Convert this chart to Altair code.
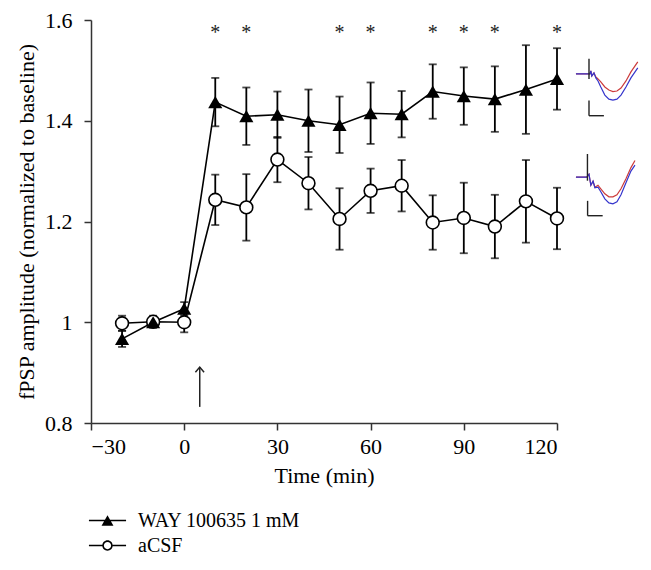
import altair as alt
import pandas as pd

# ---- data ----
times = [-20, -10, 0, 10, 20, 30, 40, 50, 60, 70, 80, 90, 100, 110, 120]
way_mean = [0.967, 1.000, 1.027, 1.437, 1.409, 1.412, 1.400, 1.392, 1.415, 1.413, 1.458, 1.449, 1.443, 1.462, 1.483]
way_err = [0.016, 0.010, 0.013, 0.048, 0.057, 0.046, 0.062, 0.056, 0.061, 0.046, 0.054, 0.057, 0.065, 0.088, 0.061]
acsf_mean = [0.998, 1.001, 1.000, 1.243, 1.228, 1.323, 1.276, 1.205, 1.261, 1.271, 1.198, 1.207, 1.190, 1.240, 1.206]
acsf_err = [0.015, 0.012, 0.020, 0.050, 0.066, 0.045, 0.052, 0.061, 0.044, 0.051, 0.054, 0.070, 0.063, 0.082, 0.061]
series_names = ["WAY 100635 1 mM", "aCSF"]

star_times = [10, 20, 50, 60, 80, 90, 100, 120]
star_value = 1.562

arrow_time = 5
arrow_top = 0.911
arrow_bottom = 0.832

# example fPSP traces (inset, in axis units)
tr_top_t = [126.1, 130.6, 130.9, 131.2, 131.9, 132.5, 133.2, 134.1, 135.4, 136.7, 138.0, 139.3, 140.6, 142.2, 143.8, 146.0]
tr_top_red = [1.493, 1.493, 1.499, 1.489, 1.495, 1.487, 1.483, 1.477, 1.467, 1.461, 1.458, 1.459, 1.465, 1.479, 1.497, 1.517]
tr_top_blue = [1.493, 1.493, 1.499, 1.489, 1.495, 1.485, 1.479, 1.467, 1.451, 1.443, 1.441, 1.443, 1.451, 1.467, 1.485, 1.505]
tr_bot_t = [126.1, 129.6, 130.3, 130.9, 131.6, 132.2, 133.2, 134.1, 135.4, 136.7, 138.0, 139.3, 140.6, 142.2, 143.8, 145.1]
tr_bot_red = [1.288, 1.288, 1.294, 1.272, 1.280, 1.268, 1.272, 1.265, 1.255, 1.249, 1.249, 1.253, 1.265, 1.285, 1.307, 1.321]
tr_bot_blue = [1.288, 1.288, 1.294, 1.272, 1.280, 1.267, 1.268, 1.259, 1.245, 1.237, 1.235, 1.239, 1.253, 1.277, 1.300, 1.312]
# segments: stimulus artefacts and scale bars  (t1, t2, v1, v2)
seg_t1 = [130.3, 130.3, 130.3, 129.8, 129.85, 129.85]
seg_t2 = [130.3, 130.3, 135.1, 129.8, 129.85, 134.7]
seg_v1 = [1.523, 1.440, 1.410, 1.334, 1.241, 1.2115]
seg_v2 = [1.483, 1.410, 1.410, 1.281, 1.2115, 1.2115]

# ---- tables ----
rows = []
for name, means, errs in [(series_names[0], way_mean, way_err), (series_names[1], acsf_mean, acsf_err)]:
    for t, m, e in zip(times, means, errs):
        rows.append({"series": name, "time": t, "mean": m, "lo": m - e, "hi": m + e})
df = pd.DataFrame(rows)

stars = pd.DataFrame({"time": star_times, "v": [star_value] * len(star_times), "s": ["*"] * len(star_times)})
arrow = pd.DataFrame({"time": [arrow_time], "top": [arrow_top], "bottom": [arrow_bottom]})

tr_rows = []
for g, ts, vs, col in [("tr", tr_top_t, tr_top_red, "#cc3b3b"), ("tb", tr_top_t, tr_top_blue, "#3535cc"),
                       ("br", tr_bot_t, tr_bot_red, "#cc3b3b"), ("bb", tr_bot_t, tr_bot_blue, "#3535cc")]:
    for i, (t, v) in enumerate(zip(ts, vs)):
        tr_rows.append({"g": g, "i": i, "t": t, "v": v, "col": col})
traces = pd.DataFrame(tr_rows)
segs = pd.DataFrame({"t1": seg_t1, "t2": seg_t2, "v1": seg_v1, "v2": seg_v2})

FONT = "Liberation Serif"
xscale = alt.Scale(domain=[-30, 120], nice=False, zero=False)
yscale = alt.Scale(domain=[0.8, 1.6], nice=False, zero=False)

xax = alt.Axis(values=[-30, 0, 30, 60, 90, 120], title="Time (min)", format="d",
               labelPadding=6, titlePadding=8)
yax = alt.Axis(values=[0.8, 1.0, 1.2, 1.4, 1.6], title="fPSP amplitude (normalized to baseline)",
               format=".1~f", labelPadding=12, titlePadding=6)

base = alt.Chart(df)
X = alt.X("time:Q", scale=xscale, axis=xax)

lines = base.mark_line(color="black", strokeWidth=1.6).encode(
    x=X, y=alt.Y("mean:Q", scale=yscale, axis=yax), detail="series:N")

bars = base.mark_rule(color="black", strokeWidth=1.8).encode(
    x="time:Q", y="lo:Q", y2="hi:Q")

caps = base.transform_fold(["lo", "hi"], as_=["k", "val"]).mark_tick(
    orient="horizontal", color="black", size=8, thickness=1.8).encode(
    x="time:Q", y="val:Q")

pts_way = base.transform_filter(alt.datum.series == series_names[0]).mark_point(
    shape="triangle-up", filled=True, color="black", size=200, opacity=1).encode(
    x="time:Q", y="mean:Q")

pts_acsf = base.transform_filter(alt.datum.series == series_names[1]).mark_point(
    shape="circle", filled=True, fill="white", stroke="black", strokeWidth=1.6, size=165, opacity=1).encode(
    x="time:Q", y="mean:Q")

star_txt = alt.Chart(stars).mark_text(font=FONT, fontSize=20, color="#222", baseline="alphabetic").encode(
    x="time:Q", y="v:Q", text="s:N")

arrow_line = alt.Chart(arrow).mark_rule(color="#222", strokeWidth=1.5).encode(
    x="time:Q", y="bottom:Q", y2="top:Q")
arrow_head = alt.Chart(arrow).mark_point(
    shape="M-0.5,0.6L0,0L0.5,0.6", filled=False, stroke="#222", strokeWidth=1.5, size=300, opacity=1).encode(
    x="time:Q", y="top:Q")

trace_lines = alt.Chart(traces).mark_line(strokeWidth=1.2).encode(
    x="t:Q", y="v:Q", detail="g:N", order="i:Q", color=alt.Color("col:N", scale=None))
seg_lines = alt.Chart(segs).mark_rule(color="#222", strokeWidth=1.4).encode(
    x="t1:Q", x2="t2:Q", y="v1:Q", y2="v2:Q")

# legend symbols drawn fully as filled paths (line + marker)
sym_way = "M-1.28,-0.055H1.28V0.055H-1.28Z M-0.41,0.36L0,-0.36L0.41,0.36Z"
sym_acsf = ("M-1.28,-0.055H-0.36V0.055H-1.28Z M0.36,-0.055H1.28V0.055H0.36Z "
            "M0.36,0A0.36,0.36 0 1 1 -0.36,0A0.36,0.36 0 1 1 0.36,0Z "
            "M0.25,0A0.25,0.25 0 1 0 -0.25,0A0.25,0.25 0 1 0 0.25,0Z")

legend_layer = base.transform_filter("false").mark_point(
    filled=True, color="black", opacity=1).encode(
    x="time:Q", y="mean:Q",
    shape=alt.Shape("series:N", scale=alt.Scale(domain=series_names, range=[sym_way, sym_acsf]),
                    legend=alt.Legend(title=None, orient="none", legendX=2, legendY=486, direction="vertical",
                                      symbolSize=841, symbolFillColor="black", symbolStrokeWidth=0,
                                      labelFont=FONT, labelFontSize=20, labelColor="black", labelOffset=16,
                                      labelLimit=0, rowPadding=0, padding=0, symbolOpacity=1)),
)

chart = alt.layer(
    lines, bars, caps, pts_acsf, pts_way, star_txt, arrow_line, arrow_head,
    trace_lines, seg_lines, legend_layer
).properties(
    width=466, height=403, padding={"left": 7, "top": 1, "right": 2, "bottom": 2}
).configure_view(stroke=None).configure_axis(
    grid=False, domainColor="#333", tickColor="#333", domainWidth=1.5, tickWidth=1.5, tickSize=7,
    labelFont=FONT, labelFontSize=22, labelColor="black",
    titleFont=FONT, titleFontSize=22, titleFontWeight="normal", titleColor="black"
)

chart.save("out.html", embed_options={"renderer": "svg", "actions": False})
